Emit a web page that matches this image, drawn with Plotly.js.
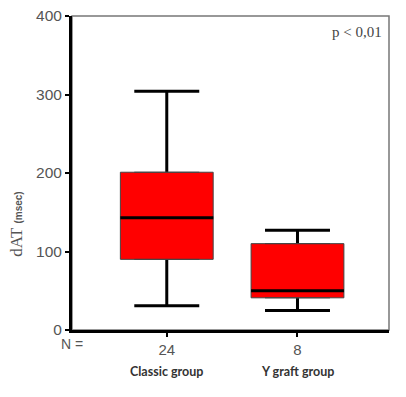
<!DOCTYPE html>
<html>
<head>
<meta charset="utf-8">
<script src="https://cdn.plot.ly/plotly-3.0.1.min.js"></script>
<style>html,body{margin:0;padding:0;background:#fff;}#chart{width:406px;height:397px;}</style>
</head>
<body>
<div id="chart"></div>
<script>
// Data
var groups = ["Classic group", "Y graft group"];
var nCounts = ["24", "8"];
var lowerFence = [31, 25];
var q1 = [90, 41];
var median = [143, 50];
var q3 = [201, 110];
var upperFence = [304, 127];
var pText = "p < 0,01";
var yTitle = "dAT";
var yUnit = "(msec)";

var pos = groups.map(function (g, i) { return i; });
var common = {
  type: "box", x: pos, width: 0.71, whiskerwidth: 0.7,
  boxpoints: false, hoverinfo: "skip", showlegend: false
};
function box(extra) { return Object.assign({}, common, extra); }

// whiskers (thick)
var whiskers = box({
  q1: median, median: median, q3: median,
  lowerfence: lowerFence, upperfence: upperFence,
  fillcolor: "rgba(0,0,0,0)",
  line: { color: "#000000", width: 3 }
});
// box body (thin outline, red fill)
var body = box({
  q1: q1, median: median, q3: q3,
  lowerfence: q1, upperfence: q3,
  fillcolor: "#ff0000",
  line: { color: "#444444", width: 1 }
});
// median line (thick)
var med = box({
  q1: median, median: median, q3: median,
  lowerfence: median, upperfence: median,
  whiskerwidth: 1,
  fillcolor: "rgba(0,0,0,0)",
  line: { color: "#000000", width: 3 }
});

var annotations = groups.map(function (g, i) {
  return {
    text: "<b>" + g + "</b>",
    x: pos[i], xref: "x",
    y: 0, yref: "paper",
    yanchor: "middle", xanchor: "center",
    yshift: -41,
    showarrow: false,
    font: { family: "Lato, 'Open Sans', sans-serif", size: 12.5, color: "#333333" }
  };
});
annotations.push({
  text: "N =",
  x: 0, xref: "paper", y: 0, yref: "paper",
  xanchor: "center", yanchor: "top", yshift: -4,
  showarrow: false,
  font: { family: "Liberation Sans, Arial, sans-serif", size: 14, color: "#555555" }
});
annotations.push({
  text: pText,
  x: 1, xref: "paper", y: 1, yref: "paper",
  xanchor: "right", yanchor: "top", xshift: -5, yshift: -6,
  showarrow: false,
  font: { family: "Liberation Serif, 'Times New Roman', serif", size: 15, color: "#444444" }
});
annotations.push({
  text: yTitle + " <span style='font-family:Liberation Sans, Arial, sans-serif;font-size:10px'><b>" + yUnit + "</b></span>",
  x: 0, xref: "paper", xshift: -55,
  y: 0.335, yref: "paper",
  xanchor: "center", yanchor: "middle",
  textangle: -90,
  showarrow: false,
  font: { family: "Liberation Serif, 'Times New Roman', serif", size: 17, color: "#555555" }
});

var layout = {
  width: 406, height: 397,
  margin: { l: 72, r: 17, t: 16, b: 67 },
  paper_bgcolor: "#ffffff",
  plot_bgcolor: "#ffffff",
  showlegend: false,
  boxmode: "overlay",
  xaxis: {
    range: [-0.725, 1.70],
    tickvals: pos,
    ticktext: nCounts,
    ticks: "outside", ticklen: 4, tickwidth: 2, tickcolor: "#000",
    showline: true, linecolor: "#000", linewidth: 3,
    showgrid: false, zeroline: false,
    tickfont: { family: "Liberation Sans, Arial, sans-serif", size: 15, color: "#555555" }
  },
  yaxis: {
    range: [0, 400],
    dtick: 100,
    ticks: "outside", ticklen: 4, tickwidth: 2, tickcolor: "#000",
    showline: true, linecolor: "#000", linewidth: 3,
    showgrid: false, zeroline: false,
    tickfont: { family: "Liberation Sans, Arial, sans-serif", size: 15.5, color: "#555555" }
  },
  shapes: [{
    type: "rect", xref: "paper", yref: "paper",
    x0: 0, x1: 1, y0: 0, y1: 1,
    line: { color: "#777777", width: 1.5 },
    layer: "below"
  }],
  annotations: annotations
};

Plotly.newPlot("chart", [whiskers, body, med], layout, { displayModeBar: false, staticPlot: true });
</script>
</body>
</html>
